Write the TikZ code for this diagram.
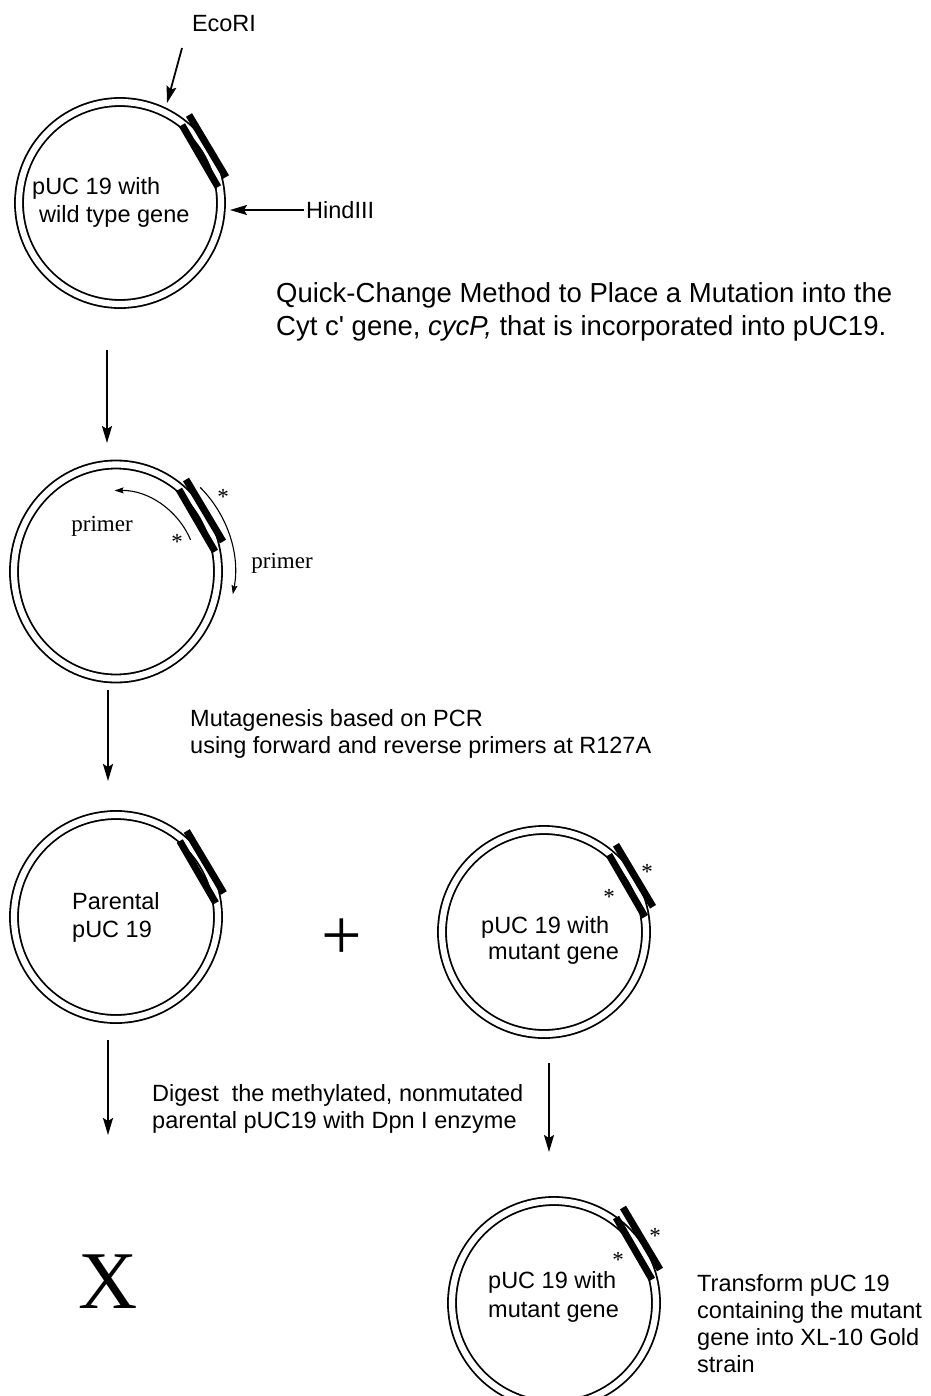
\documentclass[tikz,border=0pt]{standalone}
\usepackage{fontspec}
\setmainfont{Liberation Sans}
\newfontfamily\timesfont{Liberation Serif}
\usetikzlibrary{arrows.meta, calc}

\begin{document}
\begin{tikzpicture}[x=1pt, y=1pt,
  plasmid/.style={draw, double, double distance=6.2pt, line width=1.8pt},
  gene/.style={line width=7pt},
  arr/.style={-{Stealth[length=17pt, width=10pt, inset=3pt]}, line width=1.8pt},
  primarr/.style={-{Stealth[length=9pt, width=6pt, inset=1.5pt]}, line width=1.1pt},
  txt/.style={font=\fontsize{23.5}{28}\selectfont, anchor=base west, inner sep=0pt},
  title/.style={font=\fontsize{27.5}{32}\selectfont, anchor=base west, inner sep=0pt},
  serif/.style={font=\timesfont\fontsize{23}{27}\selectfont, inner sep=0pt},
  genebars/.pic={
    \draw[gene] (62,78) -- (98,16);
    \draw[gene] (69,88) -- (106,26);
  }
]
  \useasboundingbox (0,0) rectangle (930,-1396);

  % plasmid centres
  \coordinate (c1) at (120,-203);
  \coordinate (c2) at (116,-571.5);
  \coordinate (c3) at (116,-917);
  \coordinate (c4) at (544,-932);
  \coordinate (c5) at (554,-1303);

  % plasmids and inserted gene
  \draw[plasmid] (c1) circle[radius=101];
  \draw[plasmid] (c2) ellipse[x radius=102, y radius=107];
  \draw[plasmid] (c3) circle[radius=102];
  \draw[plasmid] (c4) circle[radius=102];
  \draw[plasmid] (c5) circle[radius=102];
  \pic at (120,-203) {genebars};
  \pic at (117,-567.5) {genebars};
  \pic at (117.75,-919) {genebars};
  \pic at (547,-932.75) {genebars};
  \pic at (554,-1295.5) {genebars};

  % restriction sites
  \node[txt, anchor=center] (eco) at (224,-24) {EcoRI};
  \node[txt, anchor=west, inner sep=2pt] (hind) at (304,-210) {HindIII};
  \coordinate (ecoTail) at (182,-48);
  \coordinate (ecoTip) at (167,-103);
  \coordinate (hindTip) at (230,-210);
  \draw[arr] (ecoTail) -- (ecoTip);
  \draw[arr] (hind.west) -- (hindTip);

  \node[txt] (wt1) at (32,-195) {pUC 19 with};
  \node[txt] (wt2) at (39,-223) {wild type gene};

  \node[title] (t1) at (276,-303) {Quick-Change Method to Place a Mutation into the};
  \node[title] (t2) at (276,-335) {Cyt c\textquotesingle{} gene, \textit{cycP,} that is incorporated into pUC19.};

  % primers
  \draw[primarr] ($(c2)+(23:81)$) arc[start angle=23, end angle=91, radius=81];
  \draw[primarr] ($(c2)+(45:119)$) arc[start angle=45, end angle=-11, radius=119];
  \node[serif] (pr1) at (102,-526) {primer};
  \node[serif] (pr2) at (282,-563) {primer};
  \node[serif] (s1) at (223,-497) {*};
  \node[serif] (s2) at (177,-542) {*};

  \node[txt] (m1) at (190,-726) {Mutagenesis based on PCR};
  \node[txt] (m2) at (190,-753) {using forward and reverse primers at R127A};

  \node[txt] (par1) at (72,-909) {Parental};
  \node[txt] (par2) at (72,-937) {pUC 19};
  \node[font=\timesfont\fontsize{72}{72}\selectfont, inner sep=0pt] (plus) at (342,-939) {+};
  \node[txt] (mu1) at (481,-933) {pUC 19 with};
  \node[txt] (mu2) at (488,-959) {mutant gene};
  \node[serif] (s3) at (647,-872) {*};
  \node[serif] (s4) at (609,-897) {*};

  \node[txt] (d1) at (152,-1101) {Digest\ \ the methylated, nonmutated};
  \node[txt] (d2) at (152,-1128) {parental pUC19 with Dpn I enzyme};

  \node[font=\timesfont\fontsize{82}{82}\selectfont, inner sep=0pt] (gone) at (108,-1282) {X};
  \node[txt] (mf1) at (488,-1288) {pUC 19 with};
  \node[txt] (mf2) at (488,-1317) {mutant gene};
  \node[serif] (s5) at (655,-1236) {*};
  \node[serif] (s6) at (618,-1260) {*};

  \node[txt] (tr1) at (697,-1291) {Transform pUC 19};
  \node[txt] (tr2) at (697,-1318) {containing the mutant};
  \node[txt] (tr3) at (697,-1345) {gene into XL-10 Gold};
  \node[txt] (tr4) at (697,-1372) {strain};

  % steps
  \coordinate (a1s) at (107,-350);
  \coordinate (a1e) at (107,-443);
  \coordinate (a2s) at (108,-690);
  \coordinate (a2e) at (108,-781);
  \coordinate (a3s) at (108,-1040);
  \coordinate (a3e) at (108,-1135);
  \coordinate (a4s) at (549,-1063);
  \coordinate (a4e) at (549,-1152);
  \draw[arr] (a1s) -- (a1e);
  \draw[arr] (a2s) -- (a2e);
  \draw[arr] (a3s) -- (a3e);
  \draw[arr] (a4s) -- (a4e);
\end{tikzpicture}
\end{document}
